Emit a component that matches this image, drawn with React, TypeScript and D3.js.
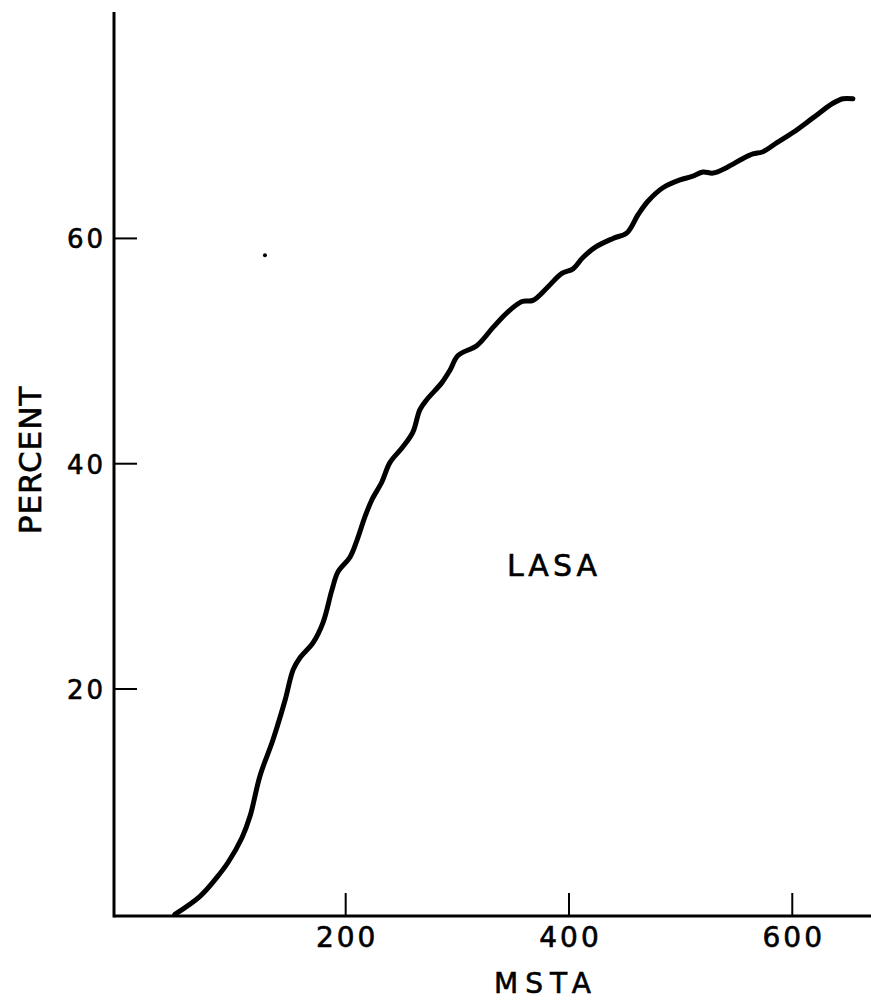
import React, { useEffect, useRef } from 'react';
import * as d3 from 'd3';

// MSTA vs percent, LASA curve
const mstaValues = [47, 69.5, 84.8, 94.6, 107.1, 114.3, 123.3, 134.9, 145.7, 152.9, 159.2, 170.7, 179.7, 187.7, 193.1, 203.8, 210.1, 217.3, 223.5, 232.5, 239.6, 251.3, 260.2, 266.5, 272.8, 286.2, 293.4, 300.6, 317.6, 332, 344.4, 357.9, 367.7, 380.2, 393.6, 403.6, 412.5, 423.3, 439.4, 451.9, 461.8, 470.7, 484.1, 499.4, 510.2, 520, 529, 541.5, 555.9, 564.8, 573.8, 586.3, 600.6, 618.5, 636.4, 645.4, 654.3];
const percentValues = [0, 1.6, 3.3, 4.6, 6.8, 8.7, 12.3, 15.5, 19, 21.7, 22.8, 24.1, 25.9, 28.8, 30.4, 31.7, 33.2, 35.3, 36.8, 38.4, 40.1, 41.5, 42.8, 44.8, 45.7, 47.2, 48.3, 49.6, 50.5, 52.1, 53.4, 54.4, 54.5, 55.6, 56.9, 57.3, 58.3, 59.2, 60, 60.5, 62.1, 63.3, 64.5, 65.2, 65.5, 65.9, 65.8, 66.3, 67.1, 67.5, 67.7, 68.5, 69.4, 70.7, 72, 72.4, 72.4];
const xTicks = [200, 400, 600];
const yTicks = [20, 40, 60];
const speck = [{ x: 127.7, y: 58.5 }];

const App = () => {
  const ref = useRef(null);

  useEffect(() => {
    const svg = d3.select(ref.current);
    svg.selectAll('*').remove();

    const x = d3.scaleLinear().domain([-7.5, 670.5]).range([114, 871]);
    const y = d3.scaleLinear().domain([-0.15, 80.1]).range([916, 12]);
    const font = "'DejaVu Sans', Arial, sans-serif";

    // axes
    svg.append('line')
      .attr('x1', x(-7.5)).attr('x2', x(-7.5))
      .attr('y1', y(80.1)).attr('y2', y(-0.15) + 1.5)
      .attr('stroke', '#000').attr('stroke-width', 3);
    svg.append('line')
      .attr('x1', x(-7.5)).attr('x2', x(670.5))
      .attr('y1', y(-0.15)).attr('y2', y(-0.15))
      .attr('stroke', '#000').attr('stroke-width', 3);

    // ticks point inward
    svg.selectAll('.xt').data(xTicks).enter().append('line')
      .attr('x1', d => x(d)).attr('x2', d => x(d))
      .attr('y1', y(-0.15)).attr('y2', y(-0.15) - 23)
      .attr('stroke', '#000').attr('stroke-width', 2);
    svg.selectAll('.yt').data(yTicks).enter().append('line')
      .attr('x1', x(-7.5)).attr('x2', x(-7.5) + 23)
      .attr('y1', d => y(d)).attr('y2', d => y(d))
      .attr('stroke', '#000').attr('stroke-width', 2);

    const txt = (sel) => sel
      .attr('font-family', font)
      .attr('fill', '#000')
      .attr('stroke', '#000')
      .attr('stroke-width', 0.6);

    svg.selectAll('.xl').data(xTicks).enter().append('text')
      .attr('x', d => x(d) + 1.5).attr('y', 947)
      .attr('text-anchor', 'middle')
      .attr('font-size', 28)
      .attr('letter-spacing', 3)
      .call(txt)
      .text(d => d);
    svg.selectAll('.yl').data(yTicks).enter().append('text')
      .attr('x', 106).attr('y', d => y(d) + 10)
      .attr('text-anchor', 'end')
      .attr('font-size', 26)
      .attr('letter-spacing', 3)
      .call(txt)
      .text(d => d);

    svg.append('text')
      .attr('x', 546).attr('y', 993)
      .attr('text-anchor', 'middle')
      .attr('font-size', 28)
      .attr('letter-spacing', 7)
      .call(txt)
      .text('MSTA');
    svg.append('text')
      .attr('transform', 'translate(41,460) rotate(-90)')
      .attr('text-anchor', 'middle')
      .attr('font-size', 31)
      .attr('letter-spacing', 1)
      .call(txt)
      .text('PERCENT');
    svg.append('text')
      .attr('x', 554).attr('y', 576)
      .attr('text-anchor', 'middle')
      .attr('font-size', 30)
      .attr('letter-spacing', 4)
      .call(txt)
      .text('LASA');

    const pts = mstaValues.map((v, i) => [v, percentValues[i]]);
    const line = d3.line()
      .x(d => x(d[0]))
      .y(d => y(d[1]))
      .curve(d3.curveCatmullRom.alpha(0.5));
    svg.append('path')
      .datum(pts)
      .attr('d', line)
      .attr('fill', 'none')
      .attr('stroke', '#000')
      .attr('stroke-width', 5)
      .attr('stroke-linecap', 'round')
      .attr('stroke-linejoin', 'round');

    svg.selectAll('.speck').data(speck).enter().append('circle')
      .attr('cx', d => x(d.x)).attr('cy', d => y(d.y))
      .attr('r', 2).attr('fill', '#000');
  }, []);

  return (
    <svg ref={ref} width={871} height={1000}
      style={{ position: 'absolute', left: 0, top: 0, background: '#fff' }} />
  );
};

export default App;
